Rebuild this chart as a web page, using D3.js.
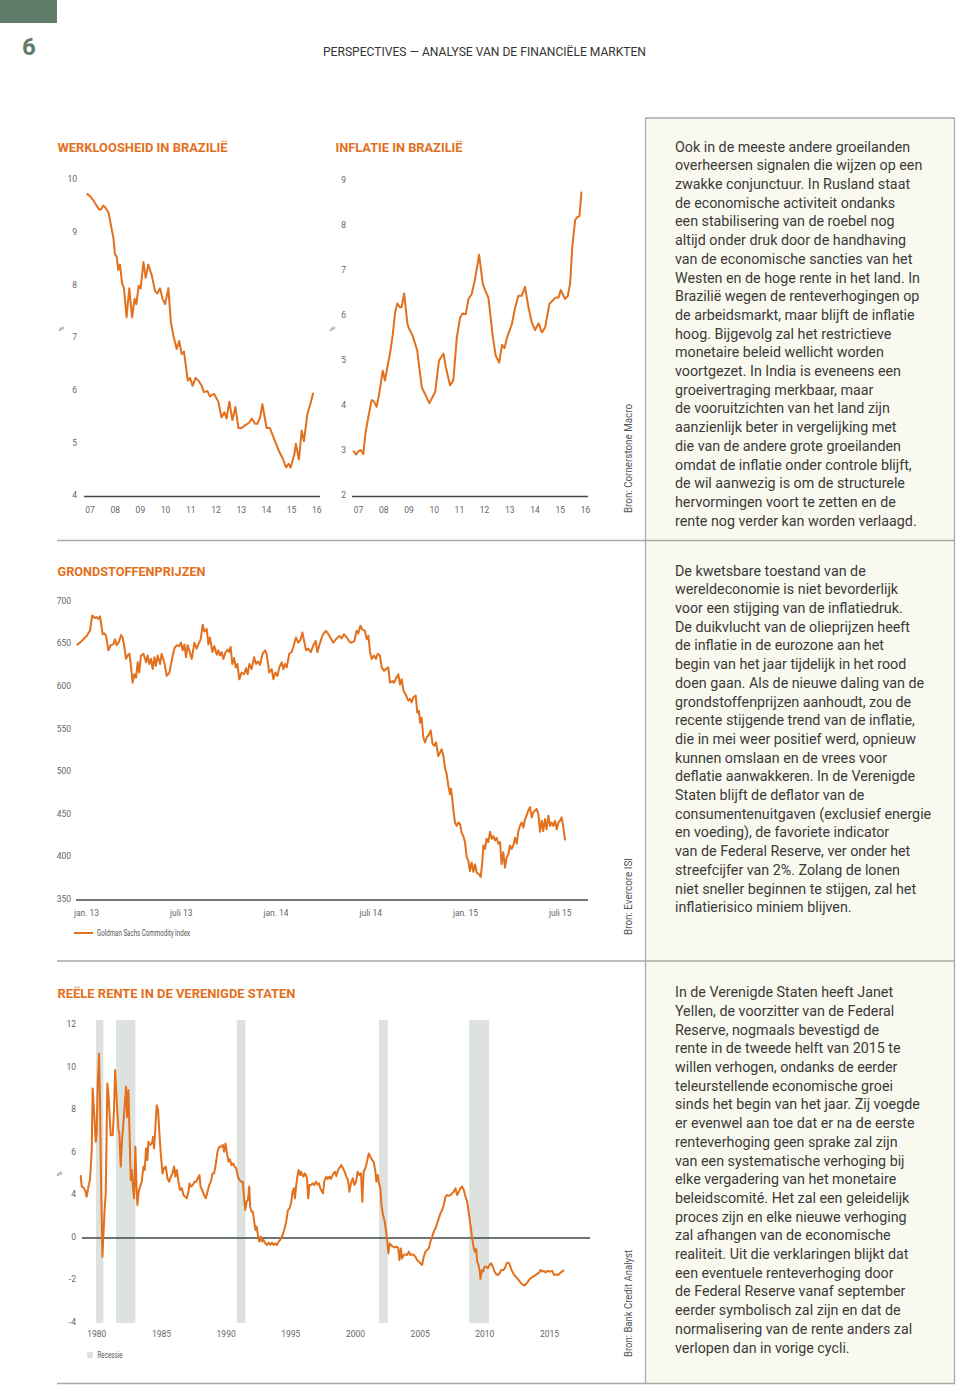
<!DOCTYPE html>
<html><head><meta charset="utf-8">
<script src="https://cdn.jsdelivr.net/npm/d3@7"></script>
<style>
html,body{margin:0;padding:0;background:#fff;}
svg{display:block;}
</style></head><body>
<svg id="page" width="960" height="1385"></svg>
<script>
// ---------------- DATA ----------------
const unemploymentYears = [2006.89,2007.02,2007.15,2007.28,2007.39,2007.48,2007.55,2007.65,2007.76,2007.85,2007.95,2008.01,2008.08,2008.14,2008.21,2008.29,2008.37,2008.47,2008.58,2008.69,2008.79,2008.86,2008.95,2009.03,2009.14,2009.23,2009.33,2009.47,2009.60,2009.69,2009.80,2009.90,2010.00,2010.13,2010.23,2010.33,2010.46,2010.56,2010.66,2010.75,2010.90,2010.99,2011.09,2011.21,2011.32,2011.45,2011.54,2011.68,2011.78,2011.94,2012.11,2012.24,2012.35,2012.44,2012.55,2012.67,2012.79,2012.91,2013.04,2013.17,2013.33,2013.44,2013.57,2013.66,2013.77,2013.86,2014.03,2014.16,2014.36,2014.53,2014.67,2014.80,2014.90,2014.98,2015.13,2015.19,2015.31,2015.42,2015.51,2015.64,2015.76,2015.88];
const unemploymentValues = [9.75,9.70,9.62,9.52,9.44,9.46,9.52,9.47,9.38,9.15,8.9,8.6,8.55,8.3,8.4,8.05,7.95,7.4,7.95,7.4,7.75,7.65,8.0,7.95,8.45,8.15,8.4,8.2,7.9,7.85,7.95,7.75,7.65,7.95,7.3,7.05,6.8,6.95,6.7,6.75,6.2,6.25,6.1,6.25,6.2,6.1,5.98,6.0,5.9,5.95,5.8,5.5,5.6,5.48,5.8,5.45,5.7,5.3,5.3,5.35,5.4,5.48,5.38,5.38,5.5,5.75,5.3,5.3,5.05,4.85,4.72,4.55,4.62,4.55,4.8,5.0,4.7,5.25,5.05,5.55,5.75,5.97];
const unemploymentYTicks = [4,5,6,7,8,9,10];
const brazilXTicks = [2007,2008,2009,2010,2011,2012,2013,2014,2015,2016];
const brazilXLabels = ["07","08","09","10","11","12","13","14","15","16"];

const inflationYears = [2006.81,2006.92,2007.01,2007.11,2007.21,2007.30,2007.41,2007.54,2007.63,2007.74,2007.85,2007.98,2008.07,2008.16,2008.27,2008.38,2008.47,2008.56,2008.67,2008.73,2008.83,2008.96,2009.06,2009.17,2009.29,2009.35,2009.43,2009.53,2009.66,2009.75,2009.83,2009.95,2010.06,2010.21,2010.39,2010.49,2010.65,2010.78,2010.92,2011.05,2011.15,2011.27,2011.38,2011.51,2011.64,2011.80,2011.95,2012.05,2012.17,2012.26,2012.34,2012.46,2012.60,2012.71,2012.81,2012.90,2013.10,2013.23,2013.36,2013.49,2013.62,2013.76,2013.89,2014.02,2014.16,2014.29,2014.42,2014.59,2014.71,2014.83,2014.95,2015.04,2015.21,2015.32,2015.41,2015.50,2015.61,2015.70,2015.78,2015.86];
const inflationValues = [3.02,2.93,3.0,3.03,2.94,3.42,3.76,4.14,4.11,3.99,4.31,4.79,4.57,4.86,5.17,5.6,6.08,6.28,6.19,6.2,6.5,5.82,5.68,5.56,5.34,5.23,4.86,4.42,4.27,4.16,4.07,4.2,4.32,5.01,5.17,4.85,4.46,4.58,5.54,5.97,6.06,6.04,6.38,6.49,6.82,7.36,6.71,6.56,6.41,5.97,5.56,5.12,4.97,5.36,5.29,5.51,5.82,6.19,6.45,6.45,6.65,6.19,5.86,5.69,5.84,5.64,5.75,6.27,6.34,6.41,6.41,6.58,6.38,6.45,6.72,7.56,8.13,8.2,8.22,8.76];
const inflationYTicks = [2,3,4,5,6,7,8,9];

const commodityYears = [2012.951,2012.977,2013.004,2013.021,2013.033,2013.047,2013.056,2013.065,2013.074,2013.088,
2013.097,2013.106,2013.118,2013.130,2013.144,2013.153,2013.162,2013.174,2013.185,2013.193,
2013.201,2013.211,2013.220,2013.229,2013.237,2013.246,2013.255,2013.264,2013.273,2013.281,
2013.290,2013.303,2013.317,2013.325,2013.334,2013.343,2013.352,2013.361,2013.369,2013.378,
2013.391,2013.399,2013.413,2013.426,2013.440,2013.454,2013.466,2013.478,2013.491,2013.501,
2013.510,2013.519,2013.528,2013.536,2013.545,2013.558,2013.572,2013.584,2013.593,2013.605,
2013.616,2013.624,2013.637,2013.646,2013.654,2013.667,2013.677,2013.690,2013.698,2013.707,
2013.716,2013.725,2013.737,2013.748,2013.756,2013.763,2013.772,2013.781,2013.790,2013.799,
2013.809,2013.821,2013.834,2013.844,2013.853,2013.862,2013.874,2013.887,2013.897,2013.908,
2013.918,2013.932,2013.945,2013.953,2013.967,2013.980,2013.989,2013.999,2014.010,2014.020,
2014.033,2014.041,2014.050,2014.059,2014.073,2014.085,2014.094,2014.108,2014.121,2014.133,
2014.142,2014.152,2014.161,2014.173,2014.186,2014.200,2014.212,2014.221,2014.231,2014.244,
2014.252,2014.266,2014.279,
2014.305,2014.323,2014.337,2014.349,2014.361,2014.376,2014.390,2014.402,2014.416,2014.428,
2014.437,2014.448,2014.460,2014.472,2014.481,2014.490,2014.499,2014.508,2014.520,2014.530,
2014.539,2014.551,2014.560,2014.573,2014.583,2014.595,2014.604,2014.617,2014.625,2014.636,
2014.648,2014.657,2014.666,2014.675,2014.689,2014.701,2014.710,2014.719,2014.727,2014.740,
2014.748,2014.757,2014.763,2014.771,2014.780,2014.789,2014.798,2014.807,2014.819,2014.829,
2014.838,2014.847,2014.859,2014.868,2014.877,2014.886,2014.895,2014.903,2014.912,2014.921,
2014.926,2014.933,2014.938,2014.947,2014.956,2014.965,2014.974,2014.982,2014.991,2015.000,
2015.009,2015.018,2015.026,2015.035,2015.044,2015.053,2015.062,2015.074,2015.083,2015.091,
2015.097,2015.106,2015.114,2015.123,2015.132,2015.141,2015.150,2015.158,2015.167,2015.176,
2015.185,2015.193,2015.202,2015.211,2015.220,2015.229,2015.237,2015.246,2015.255,2015.264,
2015.273,2015.281,2015.290,2015.299,2015.308,2015.317,2015.325,2015.334,2015.343,2015.352,
2015.361,2015.369,2015.378,2015.387,2015.396,2015.405,2015.413,2015.422,2015.431,2015.440,
2015.449,2015.457,2015.466,2015.475,2015.484,2015.493,2015.501,2015.510,2015.519,2015.528];
const commodityValues = [649,654,660,666,684,681,682,680,683,662,
663,660,643,649,650,656,649,653,661,658,
649,633,637,639,625,605,615,611,629,617,
637,639,629,637,627,633,621,635,625,637,
627,639,629,613,617,633,645,649,648,652,
643,650,635,649,643,633,652,645,650,656,
673,665,668,650,658,641,648,638,643,637,
641,633,641,644,641,647,627,634,623,627,
609,617,615,622,615,627,621,635,627,630,
626,639,643,639,617,621,609,617,613,623,
629,621,627,623,639,641,647,658,652,656,
664,653,643,645,641,649,654,641,649,658,
662,666,662,
652,657,660,657,662,658,653,652,654,666,
663,672,667,666,656,660,641,633,637,633,
639,637,623,619,621,623,605,607,605,610,
615,603,609,596,590,584,586,582,588,590,
570,572,558,564,541,535,541,543,549,533,
531,535,519,523,527,519,504,498,484,474,
481,468,457,441,437,441,439,429,425,418,
400,396,384,394,383,392,382,380,377,394,
414,410,422,418,430,422,425,420,423,416,
418,392,406,388,400,404,414,410,414,423,
416,430,437,441,435,445,449,455,459,447,
453,455,457,451,430,443,431,445,433,449,
437,441,437,443,433,441,443,447,435,420];
const commodityYTicks = [350,400,450,500,550,600,650,700];
const commodityXTicks = [2013,2013.5,2014,2014.5,2015,2015.5];
const commodityXLabels = ["jan. 13","juli 13","jan. 14","juli 14","jan. 15","juli 15"];

const realRateYears = [1978.85,1978.93,1979.05,1979.18,1979.30,1979.43,1979.55,1979.68,1979.75,1979.88,1979.98,1980.05,1980.13,1980.23,1980.30,1980.38,1980.48,1980.63,1980.73,1980.85,1980.93,1981.00,1981.10,1981.25,1981.35,1981.43,1981.55,1981.68,1981.75,1981.85,1981.95,1982.05,1982.18,1982.25,1982.33,1982.43,1982.50,1982.60,1982.68,1982.75,1982.85,1982.95,1983.03,1983.10,1983.20,1983.30,1983.43,1983.55,1983.65,1983.75,1983.85,1983.93,1984.05,1984.18,1984.28,1984.35,1984.45,1984.55,1984.65,1984.75,1984.85,1984.98,1985.10,1985.23,1985.35,1985.48,1985.60,1985.73,1985.85,1985.95,1986.05,1986.18,1986.30,1986.43,1986.55,1986.68,1986.80,1986.93,1987.00,1987.13,1987.25,1987.38,1987.50,1987.63,1987.75,1987.83,1987.95,1988.10,1988.23,1988.35,1988.48,1988.60,1988.73,1988.85,1988.98,1989.10,1989.23,1989.38,1989.50,1989.60,1989.70,1989.83,1989.93,1990.03,1990.15,1990.28,1990.38,1990.50,1990.63,1990.75,1990.88,1991.00,1991.10,1991.18,1991.28,1991.38,1991.48,1991.55,1991.65,1991.75,1991.85,1991.95,1992.03,1992.13,1992.23,1992.33,1992.43,1992.55,1992.68,1992.80,1992.93,1993.05,1993.18,1993.30,1993.43,1993.55,1993.68,1993.80,1993.98,1994.13,1994.25,1994.38,1994.50,1994.63,1994.73,1994.83,1994.90,1995.00,1995.10,1995.18,1995.28,1995.35,1995.45,1995.55,1995.63,1995.73,1995.80,1995.90,1995.98,1996.10,1996.23,1996.35,1996.48,1996.60,1996.70,1996.80,
1997.00,1997.10,1997.25,1997.35,1997.48,1997.60,1997.75,1997.88,1998.00,1998.13,1998.25,1998.38,1998.50,1998.63,1998.75,1998.88,1998.98,1999.10,1999.23,1999.35,1999.48,1999.60,1999.73,1999.85,1999.95,2000.05,2000.18,2000.30,2000.43,2000.55,2000.68,2000.80,2000.93,2001.00,2001.10,2001.20,2001.30,2001.38,2001.50,2001.63,2001.73,2001.80,2001.90,2002.00,2002.13,2002.25,2002.38,2002.50,2002.63,2002.73,2002.83,2002.93,2003.05,2003.18,2003.30,2003.43,2003.55,2003.68,2003.80,2003.93,2004.05,2004.18,2004.30,2004.43,2004.55,2004.68,2004.80,2004.93,2005.05,2005.18,2005.30,2005.43,2005.55,2005.68,2005.80,2005.93,2006.05,2006.18,2006.30,2006.43,2006.55,2006.68,2006.80,2006.93,2007.05,2007.18,2007.30,2007.43,2007.55,2007.68,2007.80,2007.93,2008.05,2008.18,2008.30,2008.38,2008.48,2008.55,2008.65,2008.75,2008.80,2008.90,2009.00,2009.10,2009.23,2009.35,2009.48,2009.60,2009.73,2009.85,2009.98,2010.10,2010.23,2010.35,2010.50,2010.63,2010.75,2010.88,2011.00,2011.13,2011.25,2011.43,2011.60,2011.75,2011.93,2012.10,2012.25,2012.43,2012.60,2012.80,2013.00,2013.18,2013.30,2013.43,2013.55,2013.68,2013.80,2014.00,2014.18,2014.30,2014.48,2014.63,2014.75,2014.90,2015.05];
const realRateValues = [4.96,4.42,4.38,4.26,3.89,4.42,4.73,6.14,9.04,7.7,6.53,6.92,9.27,10.68,8.49,4.57,-0.88,2.32,4.1,9.27,8.8,8.02,6.84,6.84,8.02,9.9,8.49,7.08,6.92,5.36,6.61,7.39,8.49,9.12,7.7,8.96,7.23,4.73,5.2,4.49,3.73,6.3,4.42,3.11,4.18,4.42,4.65,5.36,5.2,6.22,5.67,6.53,6.38,6.45,6.77,6.22,7.23,8.25,8.02,6.92,5.98,5.04,5.28,5.36,4.81,4.65,4.89,5.04,5.36,4.89,5.2,4.65,4.26,4.34,4.02,3.89,3.73,4.18,4.57,4.42,4.49,4.65,4.65,4.81,4.96,4.42,4.26,4.02,3.73,4.18,4.49,4.65,5.04,5.04,5.51,6.06,6.3,6.3,6.38,6.06,6.45,5.91,5.59,5.7,5.43,5.51,5.36,5.28,4.89,4.73,4.65,4.65,3.58,2.64,3.42,3.58,4.42,2.95,2.48,2.48,1.54,0.75,1.07,0.28,-0.17,0.13,-0.17,-0.09,-0.25,-0.33,-0.22,-0.33,-0.22,-0.33,-0.25,-0.33,-0.17,-0.09,0.28,0.91,1.54,2.64,2.79,3.42,4.18,4.34,3.73,4.49,4.96,5.2,4.96,5.12,4.96,4.89,5.04,4.96,4.81,3.73,4.49,4.49,4.57,4.49,4.65,4.52,4.57,4.34,
4.1,4.68,4.89,4.78,4.89,4.78,5.0,5.12,4.92,5.2,5.31,5.43,5.28,5.12,4.89,4.73,4.18,4.57,4.81,4.49,4.65,5.12,4.96,5.04,3.42,5.12,5.28,5.59,5.98,5.83,5.67,5.59,5.12,4.65,4.96,4.57,4.34,3.11,2.16,1.54,0.6,-0.02,-0.72,-0.25,-0.36,-0.41,-0.45,-0.41,-0.45,-1.04,-0.49,-0.96,-0.8,-0.77,-0.8,-0.64,-0.8,-0.77,-0.8,-0.88,-1.04,-1.11,-1.19,-1.27,-0.88,-0.64,-0.56,-0.49,-0.17,0.13,0.6,0.91,1.38,1.85,2.32,2.64,3.11,3.89,4.02,3.98,4.02,4.1,4.18,4.34,4.02,4.18,4.34,4.42,4.26,3.89,3.42,2.32,1.22,-0.02,-0.49,-0.64,-0.52,-1.11,-1.27,-1.58,-1.93,-1.51,-1.58,-1.35,-1.35,-1.43,-1.27,-1.19,-1.35,-1.58,-1.71,-1.74,-1.66,-1.51,-1.51,-1.43,-1.19,-1.15,-1.27,-1.51,-1.66,-1.82,-1.93,-2.05,-2.18,-2.24,-2.13,-1.98,-1.87,-1.79,-1.71,-1.63,-1.51,-1.58,-1.55,-1.62,-1.55,-1.58,-1.55,-1.74,-1.71,-1.74,-1.66,-1.58,-1.51];
const realRateYTicks = [-4,-2,0,4,6,8,10,12];
const realRateXTicks = [1980,1985,1990,1995,2000,2005,2010,2015];
const recessionStarts = [1980.0,1981.5,1990.55,2001.2,2007.95];
const recessionEnds = [1980.55,1982.95,1991.2,2001.85,2009.45];

const panel1Lines = ["Ook in de meeste andere groeilanden","overheersen signalen die wijzen op een","zwakke conjunctuur. In Rusland staat","de economische activiteit ondanks","een stabilisering van de roebel nog","altijd onder druk door de handhaving","van de economische sancties van het","Westen en de hoge rente in het land. In","Brazilië wegen de renteverhogingen op","de arbeidsmarkt, maar blijft de inflatie","hoog. Bijgevolg zal het restrictieve","monetaire beleid wellicht worden","voortgezet. In India is eveneens een","groeivertraging merkbaar, maar","de vooruitzichten van het land zijn","aanzienlijk beter in vergelijking met","die van de andere grote groeilanden","omdat de inflatie onder controle blijft,","de wil aanwezig is om de structurele","hervormingen voort te zetten en de","rente nog verder kan worden verlaagd."];
const panel2Lines = ["De kwetsbare toestand van de","wereldeconomie is niet bevorderlijk","voor een stijging van de inflatiedruk.","De duikvlucht van de olieprijzen heeft","de inflatie in de eurozone aan het","begin van het jaar tijdelijk in het rood","doen gaan. Als de nieuwe daling van de","grondstoffenprijzen aanhoudt, zou de","recente stijgende trend van de inflatie,","die in mei weer positief werd, opnieuw","kunnen omslaan en de vrees voor","deflatie aanwakkeren. In de Verenigde","Staten blijft de deflator van de","consumentenuitgaven (exclusief energie","en voeding), de favoriete indicator","van de Federal Reserve, ver onder het","streefcijfer van 2%. Zolang de lonen","niet sneller beginnen te stijgen, zal het","inflatierisico miniem blijven."];
const panel3Lines = ["In de Verenigde Staten heeft Janet","Yellen, de voorzitter van de Federal","Reserve, nogmaals bevestigd de","rente in de tweede helft van 2015 te","willen verhogen, ondanks de eerder","teleurstellende economische groei","sinds het begin van het jaar. Zij voegde","er evenwel aan toe dat er na de eerste","renteverhoging geen sprake zal zijn","van een systematische verhoging bij","elke vergadering van het monetaire","beleidscomité. Het zal een geleidelijk","proces zijn en elke nieuwe verhoging","zal afhangen van de economische","realiteit. Uit die verklaringen blijkt dat","een eventuele renteverhoging door","de Federal Reserve vanaf september","eerder symbolisch zal zijn en dat de","normalisering van de rente anders zal","verlopen dan in vorige cycli."];

// ---------------- STYLE ----------------
const ORANGE = "#e2701c";
const GREEN = "#5f7b69";
const AXIS = "#3d4a48";
const TICK = "#666";
const FONT = "Roboto, 'DejaVu Sans', sans-serif";
const svg = d3.select("#page");

// ---------------- PAGE FRAME ----------------
svg.append("rect").attr("x",0).attr("y",0).attr("width",57).attr("height",23).attr("fill",GREEN);
svg.append("text").attr("x",22).attr("y",55).attr("font-family",FONT).attr("font-weight",700)
  .attr("font-size",24).attr("fill",GREEN).text("6");
svg.append("text").attr("x",323).attr("y",55.5).attr("font-family",FONT).attr("font-size",12)
  .attr("fill","#333").attr("textLength",323).attr("lengthAdjust","spacingAndGlyphs")
  .text("PERSPECTIVES — ANALYSE VAN DE FINANCIËLE MARKTEN");

// cream panel
svg.append("rect").attr("x",645.5).attr("y",118).attr("width",309).attr("height",1265.5).attr("fill","#faf9ef");
const border = "#a9aaa6";
svg.append("line").attr("x1",645.5).attr("x2",645.5).attr("y1",118).attr("y2",1383.5).attr("stroke",border).attr("stroke-width",1.3);
svg.append("line").attr("x1",954.5).attr("x2",954.5).attr("y1",118).attr("y2",1383.5).attr("stroke",border).attr("stroke-width",1.3);
svg.append("line").attr("x1",645).attr("x2",955).attr("y1",118).attr("y2",118).attr("stroke",border).attr("stroke-width",1.3);
[540.5,961,1383.5].forEach(y=>{
  svg.append("line").attr("x1",57).attr("x2",955).attr("y1",y).attr("y2",y).attr("stroke",border).attr("stroke-width",1.3);
});

// ---------------- HELPERS ----------------
function title(x,y,txt,w){
  svg.append("text").attr("x",x).attr("y",y).attr("font-family",FONT).attr("font-weight",700)
    .attr("font-size",13).attr("fill",ORANGE).attr("textLength",w).attr("lengthAdjust","spacingAndGlyphs").text(txt);
}
function source(x,y,txt,len){
  svg.append("text").attr("transform",`translate(${x},${y}) rotate(-90)`).attr("font-family",FONT)
    .attr("font-size",10.5).attr("fill","#555").attr("textLength",len).attr("lengthAdjust","spacingAndGlyphs").text(txt);
}
function pct(x,y){
  svg.append("text").attr("transform",`translate(${x},${y}) rotate(-90)`).attr("text-anchor","middle")
    .attr("dy","0.35em").attr("font-family",FONT).attr("font-size",7).attr("fill","#777").text("%");
}
function yAxis(scale, ticks, labels, xRight){
  const g = svg.append("g").attr("transform",`translate(${xRight},0)`)
    .call(d3.axisLeft(scale).tickValues(ticks).tickFormat((d,i)=>labels? labels[i] : d).tickSize(0));
  g.select(".domain").remove();
  g.selectAll("text").attr("x",0).attr("dy","0.35em").attr("transform","translate(0,-1.5)")
    .attr("font-family",FONT).attr("font-size",8.5).attr("fill",TICK);
  return g;
}
function xAxis(scale, ticks, labels, yCenter){
  const g = svg.append("g").attr("transform",`translate(0,${yCenter})`)
    .call(d3.axisBottom(scale).tickValues(ticks).tickFormat((d,i)=>labels[i]).tickSize(0));
  g.select(".domain").remove();
  g.selectAll("text").attr("y",0).attr("dy","0.35em").attr("font-family",FONT).attr("font-size",8.5).attr("fill",TICK);
  return g;
}
function series(xs, ys, x, y){
  const pts = xs.map((d,i)=>[d, ys[i]]);
  svg.append("path").datum(pts).attr("fill","none").attr("stroke",ORANGE).attr("stroke-width",2)
    .attr("stroke-linejoin","round").attr("d", d3.line().x(d=>x(d[0])).y(d=>y(d[1])));
}
function hline(x1,x2,y){
  svg.append("line").attr("x1",x1).attr("x2",x2).attr("y1",y).attr("y2",y).attr("stroke",AXIS).attr("stroke-width",1.3);
}

// ---------------- CHART 1: WERKLOOSHEID ----------------
title(57.5,152,"WERKLOOSHEID IN BRAZILIË",170);
const x1 = d3.scaleLinear().domain([2007,2016]).range([89.5,316.3]);
const y1 = d3.scaleLinear().domain([4,10]).range([496.5,180.3]);
yAxis(y1, unemploymentYTicks, null, 77);
xAxis(x1, brazilXTicks, brazilXLabels, 510);
hline(84,320,y1(4));
series(unemploymentYears, unemploymentValues, x1, y1);
pct(62,329);

// ---------------- CHART 2: INFLATIE ----------------
title(335.5,152,"INFLATIE IN BRAZILIË",127);
const x2 = d3.scaleLinear().domain([2007,2016]).range([358,585]);
const y2 = d3.scaleLinear().domain([2,9]).range([496.5,180.8]);
yAxis(y2, inflationYTicks, null, 346);
xAxis(x2, brazilXTicks, brazilXLabels, 510);
hline(352,588,y2(2));
series(inflationYears, inflationValues, x2, y2);
pct(333,329);
source(632,513,"Bron: Cornerstone Macro",109);

// ---------------- CHART 3: GRONDSTOFFEN ----------------
title(57.5,575.5,"GRONDSTOFFENPRIJZEN",148);
const x3 = d3.scaleLinear().domain([2013,2015.5]).range([86,559.75]);
const y3 = d3.scaleLinear().domain([350,700]).range([900,601.8]);
yAxis(y3, commodityYTicks, null, 71);
xAxis(x3, commodityXTicks, commodityXLabels, 913);
hline(76,588,y3(350));
series(commodityYears, commodityValues, x3, y3);
svg.append("line").attr("x1",74).attr("x2",93).attr("y1",933).attr("y2",933).attr("stroke",ORANGE).attr("stroke-width",2);
svg.append("text").attr("x",97).attr("y",933).attr("dy","0.35em").attr("font-family",FONT).attr("font-size",8.5)
  .attr("fill","#555").attr("textLength",93).attr("lengthAdjust","spacingAndGlyphs").text("Goldman Sachs Commodity Index");
source(632,935,"Bron: Evercore ISI",77);

// ---------------- CHART 4: REËLE RENTE ----------------
title(57.5,998,"REËLE RENTE IN DE VERENIGDE STATEN",238);
const x4 = d3.scaleLinear().domain([1980,2015]).range([96,563.25]);
const x4Labels = d3.scaleLinear().domain([1980,2015]).range([96.3,549]);
const y4 = d3.scaleLinear().domain([-4,-2,0,4,6,8,10,12]).range([1323,1280.5,1238,1195.5,1153,1110.5,1068,1025.5]);
svg.append("g").selectAll("rect").data(recessionStarts).join("rect")
  .attr("x",d=>x4(d)).attr("width",(d,i)=>x4(recessionEnds[i])-x4(d))
  .attr("y",1020).attr("height",1323-1020).attr("fill","#dde2df");
yAxis(y4, realRateYTicks, null, 76);
xAxis(x4Labels, realRateXTicks, realRateXTicks.map(String), 1334);
hline(82,590,y4(0));
series(realRateYears, realRateValues, x4, y4);
pct(60,1174);
svg.append("rect").attr("x",87).attr("y",1352).attr("width",6).attr("height",6).attr("fill","#dde2df");
svg.append("text").attr("x",97.5).attr("y",1355).attr("dy","0.35em").attr("font-family",FONT).attr("font-size",8.5)
  .attr("fill","#555").attr("textLength",25).attr("lengthAdjust","spacingAndGlyphs").text("Recessie");
source(632,1357,"Bron: Bank Credit Analyst",107);

// ---------------- TEXT PANELS ----------------
const probe = svg.append("text").attr("font-family",FONT).attr("font-size",14).text(panel1Lines[1]);
const sx = 247.7 / probe.node().getComputedTextLength();
probe.remove();
function panel(lines, y0){
  const g = svg.append("g").attr("transform",`translate(675,${y0}) scale(${sx},1)`);
  g.selectAll("text").data(lines).join("text").attr("x",0).attr("y",(d,i)=>i*18.7)
    .attr("font-family",FONT).attr("font-size",14).attr("fill","#3a3a3a").text(d=>d);
}
panel(panel1Lines, 151.7);
panel(panel2Lines, 575.7);
panel(panel3Lines, 997.3);
</script></body></html>
